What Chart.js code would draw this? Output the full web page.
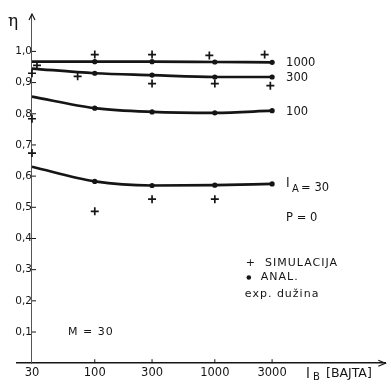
<!DOCTYPE html>
<html><head><meta charset="utf-8">
<script src="https://cdn.jsdelivr.net/npm/chart.js@4/dist/chart.umd.min.js"></script>
<style>html,body{margin:0;padding:0;background:#fff}#wrap{width:391px;height:384px;position:relative}</style>
</head><body><div id="wrap"><canvas id="c"></canvas></div>
<script>
// ---- data ----
const xTicks = [30, 100, 300, 1000, 3000];
const yTicks = [0.1, 0.2, 0.3, 0.4, 0.5, 0.6, 0.7, 0.8, 0.9, 1.0];
const analX = [30, 100, 300, 1000, 3000];
const anal1000 = [0.967, 0.967, 0.967, 0.966, 0.965];
const anal300 = [0.945, 0.930, 0.924, 0.918, 0.918];
const anal100 = [0.855, 0.818, 0.806, 0.803, 0.810];
const anal30 = [0.630, 0.583, 0.570, 0.571, 0.575];
const curveNames = ['1000', '300', '100', '30'];
const simX = [33, 30, 72, 100, 300, 900, 2600, 300, 1000, 2900, 30, 30, 100, 300, 1000];
const simY = [0.955, 0.93, 0.92, 0.99, 0.99, 0.987, 0.99, 0.897, 0.897, 0.89, 0.784, 0.674, 0.487, 0.526, 0.526];

const INK = '#151515';
const FONT = "'DejaVu Sans', 'Liberation Sans', sans-serif";

function curve(arr) {
  return {
    type: 'line',
    data: analX.map((x, i) => ({x: x, y: arr[i]})),
    borderColor: INK, borderWidth: 2.7, fill: false,
    cubicInterpolationMode: 'monotone',
    pointRadius: analX.map((x, i) => i === 0 ? 0 : 2.6),
    pointBackgroundColor: INK, pointBorderColor: INK, pointBorderWidth: 0
  };
}
const curves = [anal1000, anal300, anal100, anal30];

const deco = {
  id: 'deco',
  afterDraw(chart) {
    const ctx = chart.ctx, xs = chart.scales.x, ys = chart.scales.y, ca = chart.chartArea;
    const ax = xs.getPixelForValue(30);
    ctx.save();
    ctx.strokeStyle = INK; ctx.fillStyle = INK; ctx.lineWidth = 1.2;
    // arrows
    ctx.beginPath();
    ctx.moveTo(ax - 3, ca.top + 6); ctx.lineTo(ax, ca.top); ctx.lineTo(ax + 3, ca.top + 6);
    ctx.stroke();
    ctx.beginPath();
    ctx.moveTo(ca.right - 7, ca.bottom - 3); ctx.lineTo(ca.right, ca.bottom); ctx.lineTo(ca.right - 7, ca.bottom + 3);
    ctx.stroke();
    // tick marks
    ctx.lineWidth = 1;
    yTicks.forEach(v => { const y = ys.getPixelForValue(v); ctx.beginPath(); ctx.moveTo(ax, y); ctx.lineTo(ax + 4, y); ctx.stroke(); });
    xTicks.slice(1).forEach(v => { const x = xs.getPixelForValue(v); ctx.beginPath(); ctx.moveTo(x, ca.bottom); ctx.lineTo(x, ca.bottom - 4); ctx.stroke(); });
    // eta
    ctx.font = "17px 'DejaVu Serif', serif";
    ctx.textBaseline = 'middle'; ctx.textAlign = 'left';
    ctx.fillText('η', ax - 24, ca.top + 8);
    // curve labels
    const lx = xs.getPixelForValue(3000) + 14;
    ctx.font = '11.5px ' + FONT;
    curves.forEach((arr, i) => {
      const y = ys.getPixelForValue(arr[arr.length - 1]) + 1;
      if (curveNames[i] === '30') {
        ctx.font = '13px ' + FONT;
        ctx.fillText('l', lx, y - 1);
        ctx.font = '10px ' + FONT;
        ctx.fillText('A', lx + 6, y + 4);
        ctx.font = '11.5px ' + FONT;
        ctx.fillText('= 30', lx + 15, y + 3);
      } else {
        ctx.fillText(curveNames[i], lx, y);
      }
    });
    ctx.fillText('P = 0', lx, ys.getPixelForValue(0.465));
    // legend
    const gx = xs.getPixelForValue(1000) + 30;
    ctx.letterSpacing = '1px';
    ctx.font = '11px ' + FONT;
    ctx.fillText('+  SIMULACIJA', gx + 1, ys.getPixelForValue(0.32));
    ctx.beginPath(); ctx.arc(gx + 4, ys.getPixelForValue(0.275), 2.3, 0, Math.PI * 2); ctx.fill();
    ctx.fillText('ANAL.', gx + 16, ys.getPixelForValue(0.275));
    ctx.fillText('exp. dužina', gx, ys.getPixelForValue(0.22));
    ctx.fillText('M = 30', ax + 36, ys.getPixelForValue(0.1));
    ctx.letterSpacing = '0px';
    // x axis title
    const ty = ca.bottom + 11;
    ctx.font = '14px ' + FONT;
    ctx.fillText('l', 306, ty);
    ctx.font = '10px ' + FONT;
    ctx.fillText('B', 313, ty + 3);
    ctx.font = '12.5px ' + FONT;
    ctx.fillText('[BAJTA]', 326, ty);
    ctx.restore();
  }
};

new Chart(document.getElementById('c'), {
  data: {
    datasets: curves.map(curve).concat([{
      type: 'scatter',
      data: simX.map((x, i) => ({x: x, y: simY[i]})),
      pointStyle: 'cross', pointRadius: 4, borderWidth: 1.7,
      borderColor: INK, backgroundColor: INK
    }])
  },
  options: {
    animation: false, responsive: true, maintainAspectRatio: false,
    layout: {padding: {left: 17, right: 3, top: 14, bottom: 1}},
    plugins: {legend: {display: false}, tooltip: {enabled: false}},
    scales: {
      x: {
        type: 'logarithmic', min: 22.5, max: 26300, position: 'bottom',
        afterBuildTicks: s => { s.ticks = xTicks.map(v => ({value: v})); },
        afterFit: s => { s.paddingLeft = 0; s.paddingRight = 0; },
        ticks: {callback: v => String(v), color: INK, font: {family: FONT, size: 11.5}, padding: 3, maxRotation: 0, autoSkip: false},
        grid: {display: true, drawOnChartArea: false, drawTicks: false},
        border: {color: INK, width: 1.5}
      },
      y: {
        type: 'linear', min: 0, max: 1.12, position: {x: 30},
        afterBuildTicks: s => { s.ticks = yTicks.map(v => ({value: v})); },
        afterFit: s => { s.paddingTop = 0; s.paddingBottom = 0; },
        ticks: {callback: v => v.toFixed(1).replace('.', ','), color: INK, font: {family: FONT, size: 10.5}, padding: 3},
        grid: {display: true, drawOnChartArea: false, drawTicks: false},
        border: {color: '#555', width: 1, dash: [2, 2]}
      }
    }
  },
  plugins: [deco]
});
</script>
</body></html>
